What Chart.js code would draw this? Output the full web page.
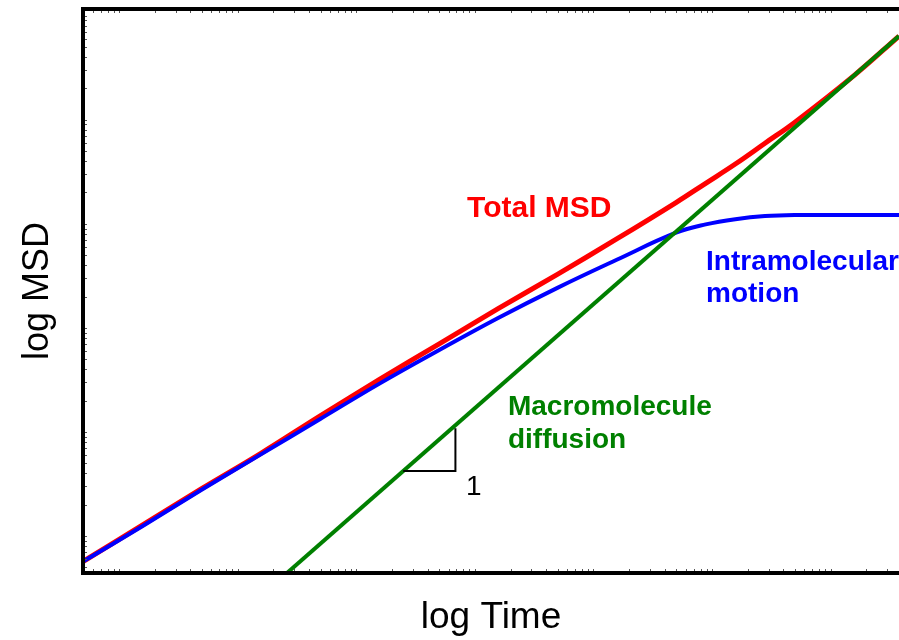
<!DOCTYPE html>
<html>
<head>
<meta charset="utf-8">
<title>log MSD vs log Time</title>
<script src="https://cdn.jsdelivr.net/npm/chart.js@4.4.1/dist/chart.umd.min.js"></script>
<style>
  html, body { margin: 0; padding: 0; background: #fff; overflow: hidden; }
  #wrap { position: relative; width: 899px; height: 640px; }
</style>
</head>
<body>
<div id="wrap"><canvas id="msd-chart"></canvas></div>
<script>
// Values are in decades (log units)

// log Time sample points for the curved series
const logTime = [0, 0.5, 1, 1.5, 2, 2.5, 3, 3.5, 4, 4.5, 5, 5.25, 5.5, 5.75, 6, 6.5, 6.88];
// Intramolecular motion (blue)
const intraMSD = [0.11, 0.45, 0.80, 1.14, 1.48, 1.82, 2.14, 2.45, 2.74, 3.01, 3.27, 3.35, 3.40, 3.43, 3.44, 3.44, 3.44];
// Total MSD (red)
const totalMSD = [0.11, 0.46, 0.81, 1.15, 1.51, 1.86, 2.20, 2.54, 2.87, 3.21, 3.56, 3.745, 3.93, 4.13, 4.33, 4.78, 5.16];
// Macromolecule diffusion (green), slope 1
const diffTime = [1.72, 6.88];
const diffMSD = [0, 5.16];

// axis ranges and decade offsets for the minor ticks
const xRange = [0, 6.88];
const yRange = [0, 5.42];
const xDecadeStart = 0.304;
const yDecadeStart = 0.356;

// slope triangle (log Time from/to)
const slopeFrom = 2.70;
const slopeTo = 3.14;

const FONT = '"Liberation Sans", Arial, Helvetica, sans-serif';

function toPoints(xs, ys) {
  return xs.map((x, i) => ({ x: x, y: ys[i] }));
}

// Frame, minor ticks and text annotations
const annotationsPlugin = {
  id: 'annotations',
  afterDatasetsDraw(chart) {
    const ctx = chart.ctx;
    const area = chart.chartArea;
    const xs = chart.scales.x;
    const ys = chart.scales.y;

    ctx.save();

    // minor log ticks
    ctx.strokeStyle = '#555';
    ctx.lineWidth = 1;
    ctx.beginPath();
    for (let n = -1; n < 8; n++) {
      for (let k = 1; k < 10; k++) {
        const v = xDecadeStart + n + Math.log10(k);
        if (v <= xRange[0] || v >= xRange[1]) continue;
        const px = Math.round(xs.getPixelForValue(v)) + 0.5;
        ctx.moveTo(px, area.top); ctx.lineTo(px, area.top + 4);
        ctx.moveTo(px, area.bottom); ctx.lineTo(px, area.bottom - 4);
      }
    }
    for (let n = -1; n < 7; n++) {
      for (let k = 1; k < 10; k++) {
        const v = yDecadeStart + n + Math.log10(k);
        if (v <= yRange[0] || v >= yRange[1]) continue;
        const py = Math.round(ys.getPixelForValue(v)) + 0.5;
        ctx.moveTo(area.left, py); ctx.lineTo(area.left + 4, py);
      }
    }
    ctx.stroke();

    // frame: left, top, bottom (right edge is off the picture)
    ctx.strokeStyle = '#000';
    ctx.lineWidth = 4;
    ctx.beginPath();
    ctx.moveTo(area.right + 2, area.top);
    ctx.lineTo(area.left, area.top);
    ctx.lineTo(area.left, area.bottom);
    ctx.lineTo(area.right + 2, area.bottom);
    ctx.stroke();

    // slope triangle on the diffusion line
    const y0 = diffMSD[0] + (slopeFrom - diffTime[0]);
    const y1 = diffMSD[0] + (slopeTo - diffTime[0]);
    ctx.lineWidth = 2;
    ctx.beginPath();
    ctx.moveTo(xs.getPixelForValue(slopeFrom), ys.getPixelForValue(y0));
    ctx.lineTo(xs.getPixelForValue(slopeTo), ys.getPixelForValue(y0));
    ctx.lineTo(xs.getPixelForValue(slopeTo), ys.getPixelForValue(y1) + 3);
    ctx.stroke();

    // labels
    const labels = [
      { text: 'Total MSD', x: 3.238, y: 3.42, color: '#ff0000', bold: true, size: 30 },
      { text: 'Intramolecular', x: 5.253, y: 2.91, color: '#0000ff', bold: true, size: 28 },
      { text: 'motion', x: 5.253, y: 2.60, color: '#0000ff', bold: true, size: 28 },
      { text: 'Macromolecule', x: 3.583, y: 1.52, color: '#008000', bold: true, size: 28 },
      { text: 'diffusion', x: 3.583, y: 1.20, color: '#008000', bold: true, size: 28 },
      { text: '1', x: 3.229, y: 0.75, color: '#000000', bold: false, size: 28 }
    ];
    ctx.textAlign = 'left';
    ctx.textBaseline = 'alphabetic';
    labels.forEach(l => {
      ctx.font = (l.bold ? 'bold ' : '') + l.size + 'px ' + FONT;
      ctx.fillStyle = l.color;
      ctx.fillText(l.text, xs.getPixelForValue(l.x), ys.getPixelForValue(l.y));
    });

    ctx.restore();
  }
};

new Chart(document.getElementById('msd-chart'), {
  type: 'line',
  data: {
    datasets: [
      {
        label: 'Macromolecule diffusion',
        data: toPoints(diffTime, diffMSD),
        borderColor: '#008000',
        borderWidth: 4,
        pointRadius: 0,
        tension: 0
      },
      {
        label: 'Intramolecular motion',
        data: toPoints(logTime, intraMSD),
        borderColor: '#0000ff',
        borderWidth: 4,
        pointRadius: 0,
        tension: 0.4
      },
      {
        label: 'Total MSD',
        data: toPoints(logTime, totalMSD),
        borderColor: '#ff0000',
        borderWidth: 5,
        pointRadius: 0,
        tension: 0.4
      }
    ]
  },
  options: {
    responsive: true,
    maintainAspectRatio: false,
    animation: false,
    layout: {
      padding: { left: 0, right: 0, top: 9, bottom: 0 }
    },
    plugins: {
      legend: { display: false },
      tooltip: { enabled: false }
    },
    scales: {
      x: {
        type: 'linear',
        min: xRange[0],
        max: xRange[1],
        grid: { display: false, drawTicks: false, tickLength: 0 },
        border: { display: false },
        ticks: { display: false },
        title: {
          display: true,
          text: 'log Time',
          color: '#000',
          font: { family: FONT, size: 37, lineHeight: 1 },
          padding: { top: 26, bottom: 4 }
        }
      },
      y: {
        type: 'linear',
        min: yRange[0],
        max: yRange[1],
        grid: { display: false, drawTicks: false, tickLength: 0 },
        border: { display: false },
        ticks: { display: false },
        title: {
          display: true,
          text: 'log MSD',
          color: '#000',
          font: { family: FONT, size: 36, lineHeight: 1 },
          padding: { top: 20, bottom: 27 }
        }
      }
    }
  },
  plugins: [annotationsPlugin]
});
</script>
</body>
</html>
